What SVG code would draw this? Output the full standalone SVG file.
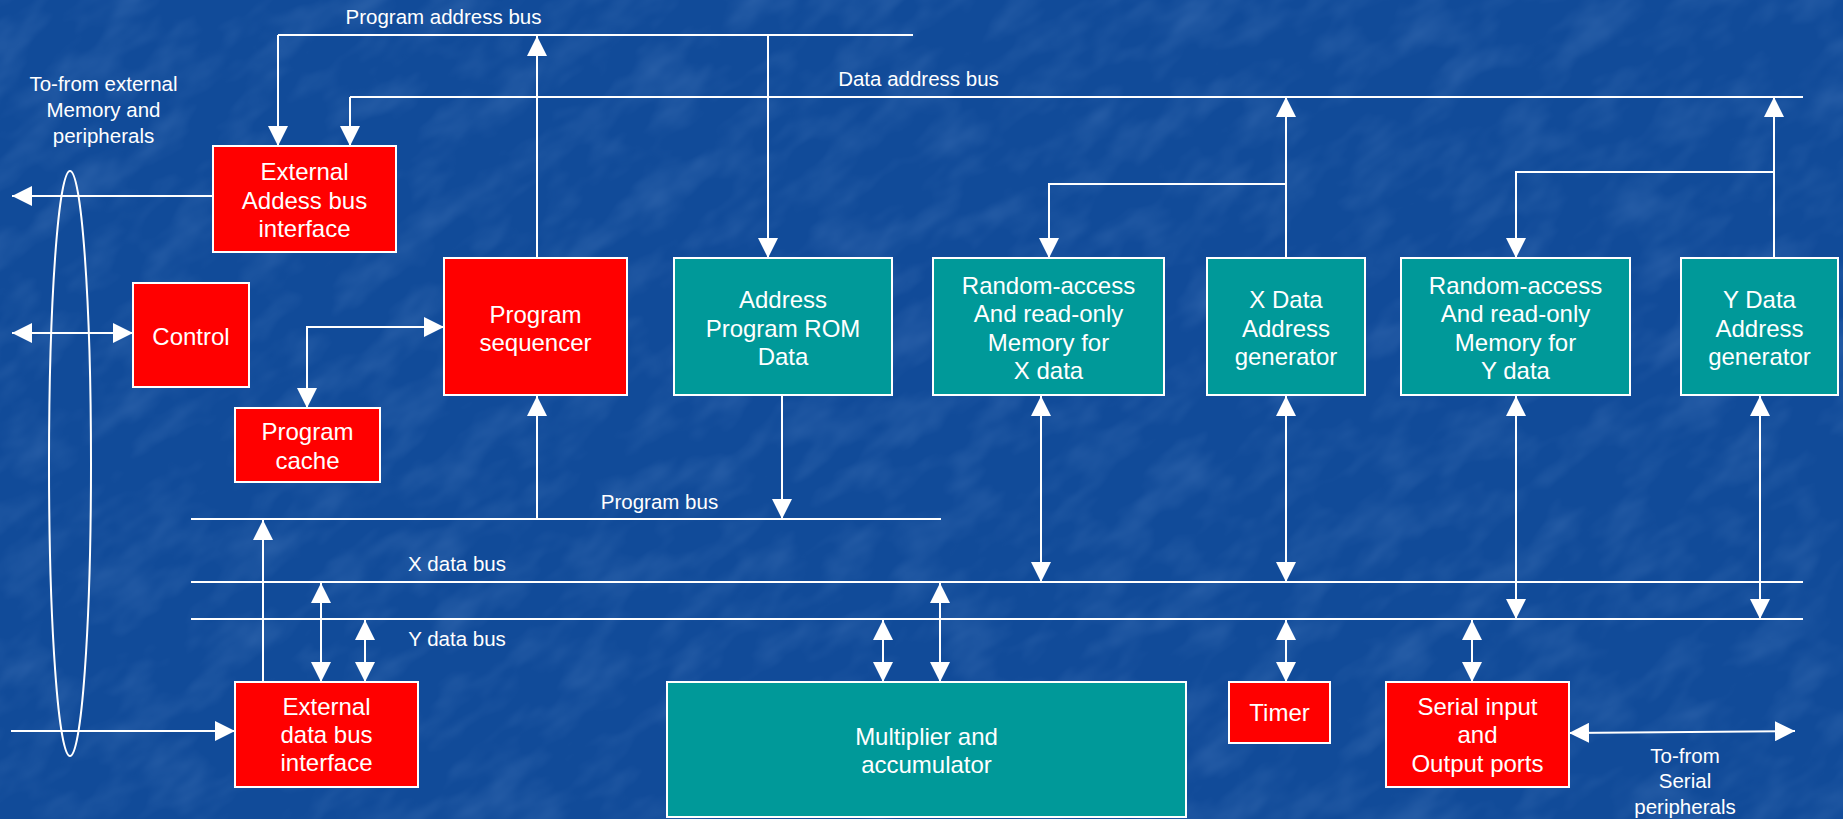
<svg xmlns="http://www.w3.org/2000/svg" width="1843" height="819" viewBox="0 0 1843 819">
<defs>
<style>
.red{fill:#FF0000;stroke:#FFFFFF;stroke-width:2}
.teal{fill:#009999;stroke:#FFFFFF;stroke-width:2}
.bt{font-family:"Liberation Sans",Arial,sans-serif;font-size:24px;fill:#FFFFFF;text-anchor:middle}
.lb{font-family:"Liberation Sans",Arial,sans-serif;font-size:20.5px;fill:#FFFFFF;text-anchor:middle}
.ln{fill:none;stroke:#FFFFFF;stroke-width:2}
.a1{marker-end:url(#ah)}
.a2{marker-start:url(#ah);marker-end:url(#ah)}
</style>
<marker id="ah" markerUnits="userSpaceOnUse" markerWidth="20" markerHeight="20" viewBox="0 0 20 20" refX="20" refY="10" orient="auto-start-reverse">
<path d="M0,0 L20,10 L0,20 Z" fill="#FFFFFF"/>
</marker>
<filter id="tex" x="0" y="0" width="100%" height="100%">
<feTurbulence type="fractalNoise" baseFrequency="0.015 0.03" numOctaves="3" seed="7" result="n"/>
<feColorMatrix type="matrix" values="0 0 0 0 0.35  0 0 0 0 0.55  0 0 0 0 0.9  0 0 0 1.4 -0.6" in="n"/>
</filter>
</defs>
<rect x="0" y="0" width="1843" height="819" fill="#114B99"/>
<g transform="rotate(-35 921 410)" opacity="0.22">
<rect x="-600" y="-800" width="3100" height="2400" filter="url(#tex)"/>
</g>

<g id="connectors">
<path class="ln" d="M278,35 H913"/>
<path class="ln a1" d="M278,35 V146"/>
<path class="ln a1" d="M537,258 V36"/>
<path class="ln a1" d="M768,35 V258"/>
<path class="ln" d="M350,97 H1803"/>
<path class="ln a1" d="M350,97 V146"/>
<path class="ln a1" d="M1286,258 V97"/>
<path class="ln a1" d="M1286,184 H1049 V258"/>
<path class="ln a1" d="M1774,258 V97"/>
<path class="ln a1" d="M1774,172 H1516 V258"/>
<path class="ln" d="M191,519 H941"/>
<path class="ln a1" d="M537,519 V396"/>
<path class="ln a1" d="M782,396 V519"/>
<path class="ln a1" d="M263,682 V520"/>
<path class="ln a2" d="M444,327 H307 V408"/>
<path class="ln" d="M191,582 H1803"/>
<path class="ln" d="M191,619 H1803"/>
<path class="ln a2" d="M321,583 V682"/>
<path class="ln a2" d="M365,620 V682"/>
<path class="ln a2" d="M883,620 V682"/>
<path class="ln a2" d="M940,583 V682"/>
<path class="ln a2" d="M1041,396 V582"/>
<path class="ln a2" d="M1286,396 V582"/>
<path class="ln a2" d="M1516,396 V619"/>
<path class="ln a2" d="M1760,396 V619"/>
<path class="ln a2" d="M1286,620 V682"/>
<path class="ln a2" d="M1472,620 V682"/>
<path class="ln a2" d="M1569,733 L1795,731"/>
<path class="ln a1" d="M213,196 H12"/>
<path class="ln a2" d="M12,333 H133"/>
<path class="ln a1" d="M11,731 H235"/>
<ellipse class="ln" cx="70" cy="463.5" rx="21" ry="292.5"/>
</g>

<g id="labels">
<text class="lb" x="443.5" y="24">Program address bus</text>
<text class="lb" x="918.5" y="86">Data address bus</text>
<text class="lb" x="659.5" y="509">Program bus</text>
<text class="lb" x="457" y="571">X data bus</text>
<text class="lb" x="457" y="646">Y data bus</text>
<text class="lb" x="103.5" y="91">To-from external</text>
<text class="lb" x="103.5" y="117">Memory and</text>
<text class="lb" x="103.5" y="143">peripherals</text>
<text class="lb" x="1685" y="763">To-from</text>
<text class="lb" x="1685" y="788">Serial</text>
<text class="lb" x="1685" y="814">peripherals</text>
</g>

<g id="ext-address-bus-interface">
<rect class="red" x="213" y="146" width="183" height="106"/>
<text class="bt" x="304.5" y="180">External</text>
<text class="bt" x="304.5" y="209">Addess bus</text>
<text class="bt" x="304.5" y="237">interface</text>
</g>
<g id="control">
<rect class="red" x="133" y="283" width="116" height="104"/>
<text class="bt" x="191" y="345">Control</text>
</g>
<g id="program-sequencer">
<rect class="red" x="444" y="258" width="183" height="137"/>
<text class="bt" x="535.5" y="323">Program</text>
<text class="bt" x="535.5" y="351">sequencer</text>
</g>
<g id="program-cache">
<rect class="red" x="235" y="408" width="145" height="74"/>
<text class="bt" x="307.5" y="440">Program</text>
<text class="bt" x="307.5" y="469">cache</text>
</g>
<g id="program-rom">
<rect class="teal" x="674" y="258" width="218" height="137"/>
<text class="bt" x="783" y="308">Address</text>
<text class="bt" x="783" y="337">Program ROM</text>
<text class="bt" x="783" y="365">Data</text>
</g>
<g id="ram-x">
<rect class="teal" x="933" y="258" width="231" height="137"/>
<text class="bt" x="1048.5" y="294">Random-access</text>
<text class="bt" x="1048.5" y="322">And read-only</text>
<text class="bt" x="1048.5" y="351">Memory for</text>
<text class="bt" x="1048.5" y="379">X data</text>
</g>
<g id="x-address-generator">
<rect class="teal" x="1207" y="258" width="158" height="137"/>
<text class="bt" x="1286" y="308">X Data</text>
<text class="bt" x="1286" y="337">Address</text>
<text class="bt" x="1286" y="365">generator</text>
</g>
<g id="ram-y">
<rect class="teal" x="1401" y="258" width="229" height="137"/>
<text class="bt" x="1515.5" y="294">Random-access</text>
<text class="bt" x="1515.5" y="322">And read-only</text>
<text class="bt" x="1515.5" y="351">Memory for</text>
<text class="bt" x="1515.5" y="379">Y data</text>
</g>
<g id="y-address-generator">
<rect class="teal" x="1681" y="258" width="157" height="137"/>
<text class="bt" x="1759.5" y="308">Y Data</text>
<text class="bt" x="1759.5" y="337">Address</text>
<text class="bt" x="1759.5" y="365">generator</text>
</g>
<g id="ext-data-bus-interface">
<rect class="red" x="235" y="682" width="183" height="105"/>
<text class="bt" x="326.5" y="715">External</text>
<text class="bt" x="326.5" y="743">data bus</text>
<text class="bt" x="326.5" y="771">interface</text>
</g>
<g id="multiplier-accumulator">
<rect class="teal" x="667" y="682" width="519" height="135"/>
<text class="bt" x="926.5" y="745">Multiplier and</text>
<text class="bt" x="926.5" y="773">accumulator</text>
</g>
<g id="timer">
<rect class="red" x="1229" y="682" width="101" height="61"/>
<text class="bt" x="1279.5" y="721">Timer</text>
</g>
<g id="serial-io">
<rect class="red" x="1386" y="682" width="183" height="105"/>
<text class="bt" x="1477.5" y="715">Serial input</text>
<text class="bt" x="1477.5" y="743">and</text>
<text class="bt" x="1477.5" y="772">Output ports</text>
</g>
</svg>
